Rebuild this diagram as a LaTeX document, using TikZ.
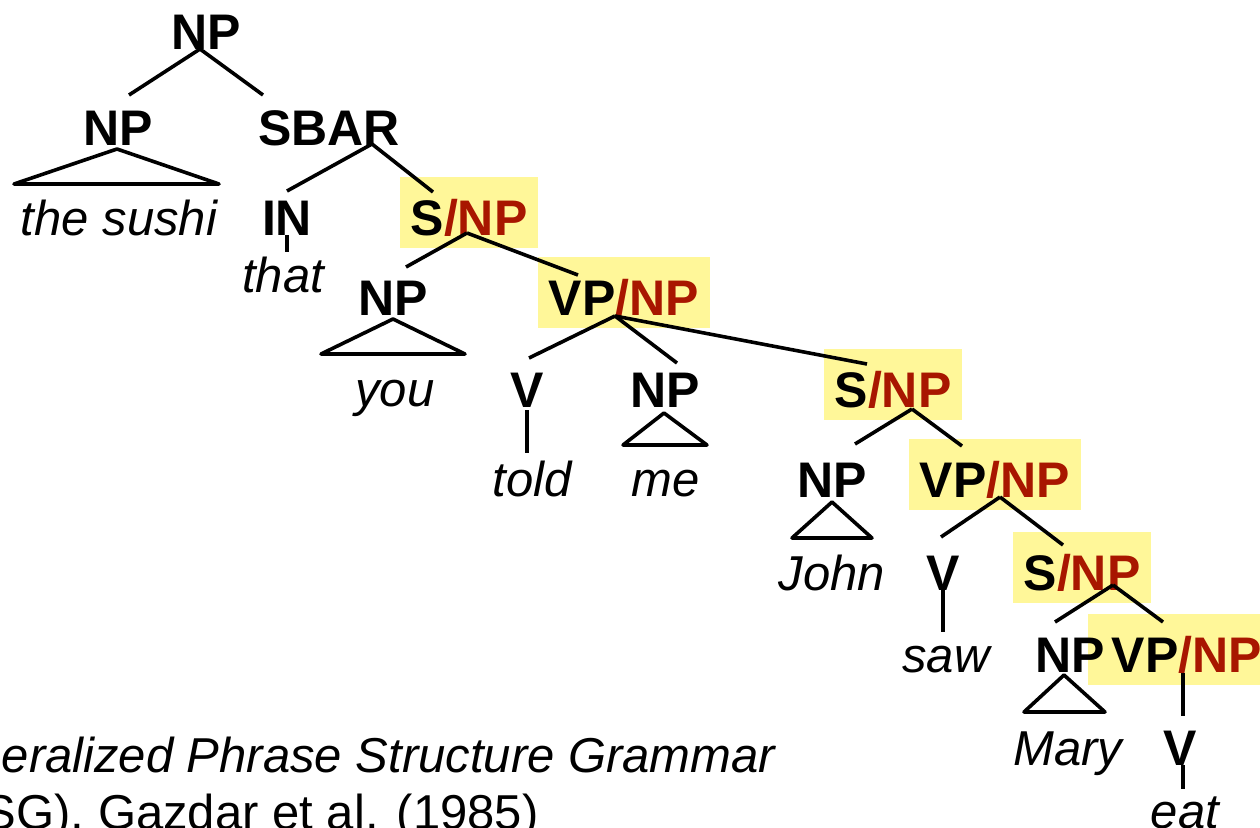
\documentclass[tikz,border=0pt]{standalone}
\usepackage{fontspec}
\usepackage{tikz}
\usetikzlibrary{calc}
\newfontfamily\helv{Liberation Sans}
\definecolor{hlyellow}{RGB}{255,247,153}
\definecolor{slashred}{RGB}{168,22,0}
\newcommand{\catfont}{\helv\bfseries\fontsize{25}{30}\selectfont}
\newcommand{\wordfont}{\helv\itshape\fontsize{24.5}{29}\selectfont}
\newcommand{\gap}[1]{#1{\color{slashred}/NP}}

\begin{document}
\begin{tikzpicture}[x=0.5pt,y=-0.5pt,line width=1.8pt]
	\tikzstyle{cat}=[font=\catfont,inner sep=0pt,anchor=base]
	\tikzstyle{slash}=[cat,fill=hlyellow,text height=29.25pt,text depth=6.5pt,inner xsep=5.5pt]
	\tikzstyle{word}=[font=\wordfont,inner sep=0pt,anchor=base]
	\tikzstyle{cite}=[font=\helv\fontsize{24.5}{29}\selectfont,inner sep=0pt,anchor=base west]
	\tikzstyle{roof}=[line join=round]

	\useasboundingbox (0,0) rectangle (1260,827);
	\clip (0,0) rectangle (1260,827);

	% gap categories
	\node[slash] (snp1)   at (469,235)    {\gap{S}};
	\node[slash] (vpnp1)  at (624,315)    {\gap{VP}};
	\node[slash] (snp2)   at (893,407)    {\gap{S}};
	\node[slash] (vpnp2)  at (995,497)    {\gap{VP}};
	\node[slash] (snp3)   at (1082,590)   {\gap{S}};
	\node[slash] (vpnp3)  at (1180.5,672) {\hspace*{6.5pt}\gap{VP}};

	\node[cat] (np0)      at (206,49)   {NP};
	\node[cat] (np1)      at (118,145)  {NP};
	\node[cat] (sbar)     at (329,145)  {SBAR};
	\node[cat] (in)       at (287,235)  {IN};
	\node[cat] (npyou)    at (393,315)  {NP};
	\node[cat] (vtold)    at (527,407)  {V};
	\node[cat] (npme)     at (665,407)  {NP};
	\node[cat] (npjohn)   at (832,497)  {NP};
	\node[cat] (vsaw)     at (943,590)  {V};
	\node[cat] (npmary)   at (1070,672) {NP};
	\node[cat] (veat)     at (1180,765) {V};

	% words
	\node[word] (sushi)   at (119,235)  {the sushi};
	\node[word] (that)    at (283,292)  {that};
	\node[word] (you)     at (395,406)  {you};
	\node[word] (told)    at (532,496)  {told};
	\node[word] (me)      at (666,496)  {me};
	\node[word] (john)    at (832,590)  {John};
	\node[word] (saw)     at (946,672)  {saw};
	\node[word] (mary)    at (1068,765) {Mary};
	\node[word] (eat)     at (1185,828) {eat};

	\node[cite,font=\helv\itshape\fontsize{24.5}{29}\selectfont] (gpsg) at (0,772) {eralized Phrase Structure Grammar};
	\node[cite] (gazdar)  at (-18,829)  {SG), Gazdar et al. (1985)};

	% branches
	\path ($(np0.base)+(-6,0)$)    edge ($(np1.base)+(11,-50)$)
	                               edge ($(sbar.base)+(-66,-50)$);
	\path ($(sbar.base)+(43,-1)$)  edge ($(in.base)+(0,-44)$)
	                               edge ($(snp1.base)+(-36,-43)$);
	\path ($(snp1.base)+(-2,-2)$)  edge ($(npyou.base)+(13,-48)$)
	                               edge ($(vpnp1.base)+(-46,-40)$);
	\path ($(vpnp1.base)+(-9,1)$)  edge ($(vtold.base)+(2,-49)$)
	                               edge ($(npme.base)+(12,-44)$)
	                               edge ($(snp2.base)+(-26,-43)$);
	\path ($(snp2.base)+(19,2)$)   edge ($(npjohn.base)+(23,-53)$)
	                               edge ($(vpnp2.base)+(-33,-51)$);
	\path ($(vpnp2.base)+(5,0)$)   edge ($(vsaw.base)+(-2,-53)$)
	                               edge ($(snp3.base)+(-19,-45)$);
	\path ($(snp3.base)+(31,-5)$)  edge ($(npmary.base)+(-15,-50)$)
	                               edge ($(vpnp3.base)+(-17.5,-50)$);
	\path ($(vpnp3.base)+(2.5,1)$) edge ($(veat.base)+(3,-49)$);

	% unary branches down to the words
	\path (in.base)                edge ($(that.base)+(4,-40)$);
	\path ($(vtold.base)+(0,3)$)   edge ($(told.base)+(-5,-43)$);
	\path (vsaw.base)              edge ($(saw.base)+(-3,-40)$);
	\path ($(veat.base)+(3,0)$)    edge ($(eat.base)+(-2,-39)$);

	% triangles
	\draw[roof] ($(np1.base)+(-1,4)$)    -- ++(-103,35) -- ++(205,0) -- cycle;
	\draw[roof] ($(npyou.base)+(0,4)$)   -- ++(-72,35) -- ++(144,0) -- cycle;
	\draw[roof] ($(npme.base)+(-1,6)$)   -- ++(-41,32) -- ++(84,0) -- cycle;
	\draw[roof] ($(npjohn.base)+(0,5)$)  -- ++(-40,36) -- ++(80,0) -- cycle;
	\draw[roof] ($(npmary.base)+(-6,3)$) -- ++(-40,37) -- ++(81,0) -- cycle;
\end{tikzpicture}
\end{document}
